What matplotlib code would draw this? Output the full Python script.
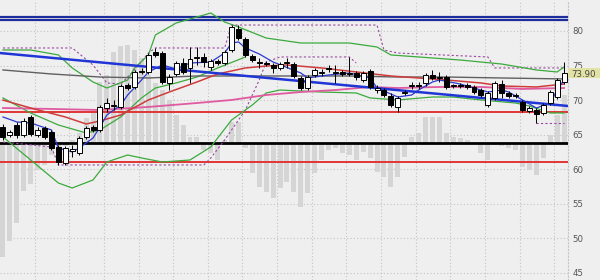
import matplotlib
matplotlib.use('Agg')
import matplotlib.pyplot as plt
from matplotlib.patches import Rectangle
import numpy as np

# ---------------- data ----------------
opens = [66.11, 64.96, 66.40, 64.96, 67.56, 64.96, 65.97, 65.39, 63.22, 60.91,
         62.64, 62.35, 64.67, 66.11, 65.68, 68.86, 69.15, 69.01, 72.19, 71.90,
         74.07, 74.07, 76.96, 76.81, 72.48, 73.78, 75.37, 74.65, 76.09, 76.24,
         74.79, 75.66, 75.37, 77.25, 80.29, 78.84, 76.38, 75.51, 75.37, 75.08,
         74.65, 75.37, 75.22, 73.20, 71.75, 73.63, 73.92, 74.50, 73.92, 74.07,
         73.78, 73.92, 72.91, 74.21, 71.46, 71.46, 70.60, 69.01, 71.03, 72.04,
         72.19, 72.48, 73.63, 73.20, 73.34, 72.04, 72.19, 72.19, 71.90, 71.46,
         69.30, 70.31, 72.33, 71.03, 70.60, 69.73, 68.43, 68.57, 68.14, 69.58,
         70.45, 72.62]
highs = [66.55, 65.68, 66.84, 67.41, 67.85, 66.11, 66.26, 65.68, 63.51, 63.36,
         63.51, 64.81, 66.26, 66.40, 69.30, 70.31, 70.02, 72.33, 72.48, 74.36,
         74.65, 76.81, 77.54, 77.10, 73.78, 75.66, 76.09, 77.68, 77.68, 76.81,
         75.95, 75.95, 77.25, 80.86, 80.86, 79.13, 76.67, 76.09, 75.66, 75.37,
         75.51, 76.09, 75.51, 73.49, 73.63, 74.65, 74.50, 75.08, 75.08, 74.36,
         76.24, 74.21, 74.21, 74.50, 72.19, 71.75, 71.03, 70.60, 71.46, 72.62,
         72.62, 73.92, 74.36, 74.07, 73.63, 72.33, 72.48, 72.48, 72.19, 71.75,
         71.32, 72.77, 72.91, 71.32, 71.03, 70.02, 69.15, 68.86, 69.58, 71.46,
         73.20, 75.51]
lows = [64.23, 64.67, 64.52, 64.67, 64.81, 64.67, 64.38, 62.78, 60.62, 60.62,
        61.77, 62.06, 64.38, 65.39, 65.39, 68.28, 68.57, 68.72, 71.46, 71.61,
        73.78, 73.78, 76.24, 72.33, 71.46, 73.49, 73.78, 72.48, 75.08, 74.79,
        74.36, 75.08, 75.08, 76.96, 78.70, 76.24, 75.51, 74.65, 74.93, 73.92,
        74.36, 74.65, 73.20, 71.46, 71.46, 73.34, 73.49, 74.07, 72.48, 73.49,
        73.49, 72.91, 72.62, 71.61, 71.03, 70.45, 69.01, 68.28, 70.74, 71.61,
        71.61, 72.04, 72.91, 72.62, 71.61, 71.75, 71.75, 71.61, 70.89, 70.45,
        69.01, 70.02, 70.31, 70.31, 70.31, 68.28, 68.14, 66.69, 67.85, 69.30,
        70.16, 72.33]
closes = [64.67, 65.39, 64.96, 66.98, 65.10, 65.68, 64.67, 63.07, 61.05, 63.07,
          62.93, 64.52, 65.97, 65.68, 69.01, 69.58, 69.30, 72.04, 71.75, 74.07,
          74.21, 76.53, 76.53, 72.62, 73.34, 75.37, 74.07, 75.95, 76.24, 75.51,
          75.66, 75.37, 76.96, 80.58, 78.98, 76.53, 75.80, 75.37, 75.22, 74.65,
          75.22, 75.51, 73.49, 71.75, 73.34, 74.36, 74.07, 74.65, 74.07, 73.78,
          73.92, 73.34, 73.92, 71.90, 71.75, 70.74, 69.30, 70.31, 71.17, 72.19,
          72.04, 73.63, 73.20, 73.34, 71.90, 72.19, 72.04, 71.90, 71.17, 70.74,
          71.03, 72.48, 71.03, 70.60, 70.74, 68.57, 68.86, 67.99, 69.30, 71.17,
          72.91, 73.90]

# histogram (drawn around the zero line)
hist_zero = 63.80
hist_vals = [47.31, 49.63, 52.23, 56.86, 57.87, 59.89, 60.62, 62.06, 62.78, 63.36,
             64.23, 65.25, 67.41, 68.28, 72.62, 73.63, 76.96, 77.83, 77.97, 77.25,
             76.09, 73.63, 72.48, 71.46, 70.02, 67.85, 66.40, 64.67, 64.67, 62.78,
             62.35, 61.34, 64.23, 66.84, 66.84, 63.07, 59.46, 57.43, 56.71, 55.84,
             57.29, 58.16, 56.71, 54.54, 56.57, 59.46, 61.34, 62.78, 63.07, 62.35,
             62.06, 61.34, 62.50, 61.63, 59.60, 58.88, 57.43, 58.88, 61.77, 64.67,
             65.25, 67.56, 67.56, 67.56, 65.25, 64.67, 64.52, 64.23, 63.80, 62.35,
             61.34, 63.51, 63.36, 63.07, 62.78, 60.33, 59.89, 59.17, 61.63, 64.96,
             67.85, 70.74]

# indicator lines: (bar index, value)
red_ma_idx = [0, 4, 9, 12, 14, 17, 21, 24, 28, 31, 35, 38, 41, 46, 51, 56, 60, 64, 69, 72, 77, 81]
red_ma_val = [70.0, 68.86, 67.56, 66.55, 66.98, 67.85, 70.02, 71.17, 72.62, 73.78, 74.65, 74.93,
              75.08, 74.65, 74.07, 73.49, 73.20, 72.91, 72.48, 72.04, 71.90, 72.33]

pink_ma_idx = [0, 7, 14, 21, 28, 33, 38, 43, 48, 53, 57, 63, 69, 75, 81]
pink_ma_val = [68.86, 68.72, 68.57, 69.01, 69.58, 70.02, 70.74, 71.17, 71.46, 71.90, 71.75,
               71.90, 71.90, 71.61, 71.75]

gray_ma_idx = [0, 7, 14, 21, 28, 36, 43, 50, 57, 64, 72, 81]
gray_ma_val = [74.36, 73.78, 73.34, 73.20, 73.49, 73.49, 73.49, 73.49, 73.34, 73.34, 73.20, 73.06]

blue_ma_idx = [0, 2, 4, 7, 8, 10, 11, 13, 14, 15, 17, 18, 20, 21, 23, 25, 27, 30, 32, 33, 34,
               35, 37, 39, 43, 44, 47, 50, 53, 54, 57, 59, 60, 62, 63, 66, 68, 70, 72, 73, 75,
               77, 79, 80, 81]
blue_ma_val = [67.56, 66.84, 66.69, 65.68, 63.07, 62.50, 63.07, 64.52, 66.11, 67.85, 69.30,
               70.74, 72.91, 74.07, 75.08, 74.50, 75.37, 75.51, 76.81, 78.26, 78.41, 77.54,
               76.67, 75.51, 73.92, 73.20, 73.63, 73.92, 73.20, 71.75, 70.45, 70.74, 71.46,
               72.62, 72.91, 72.33, 71.75, 71.17, 71.46, 71.17, 70.02, 68.86, 69.58, 71.46,
               72.91]

bb_up_idx = [0, 4, 8, 10, 13, 15, 18, 19, 21, 22, 25, 28, 30, 32, 34, 38, 43, 50, 54, 56, 60,
             66, 72, 77, 80, 81]
bb_up_val = [77.25, 77.25, 76.53, 74.65, 72.62, 71.75, 72.91, 74.65, 76.53, 79.42, 81.15,
             82.02, 82.60, 81.30, 80.58, 78.98, 78.26, 78.26, 77.68, 76.53, 76.24, 75.80,
             75.22, 74.36, 74.07, 74.79]

bb_lo_idx = [0, 4, 8, 10, 13, 15, 18, 20, 23, 27, 30, 33, 36, 38, 40, 46, 51, 53, 57, 62, 65,
             69, 74, 76, 79, 81]
bb_lo_val = [64.67, 61.34, 58.01, 57.29, 58.45, 61.05, 62.06, 61.63, 61.05, 61.34, 63.22,
             67.12, 69.30, 71.03, 71.46, 71.17, 71.03, 70.31, 70.02, 70.45, 70.45, 70.02,
             69.58, 69.15, 68.14, 68.14]

inner_green_idx = [0, 4, 8, 12, 14, 17, 20, 22, 25, 28, 31, 35]
inner_green_val = [70.31, 68.14, 66.40, 65.25, 65.68, 67.56, 70.31, 71.75, 72.48, 73.34,
                   74.65, 76.24]

ch_up_idx = [0, 10, 13, 15, 17, 19, 21, 22, 32, 33, 54, 55, 57, 70, 71, 81]
ch_up_val = [77.54, 77.54, 75.08, 72.48, 72.33, 74.36, 76.81, 77.54, 77.54, 80.86, 80.86,
             77.25, 76.81, 76.24, 74.65, 74.65]

ch_lo_idx = [0, 7, 8, 29, 30, 32, 35, 37, 38, 40, 50, 51]
ch_lo_val = [63.94, 63.22, 60.62, 60.62, 61.63, 64.23, 68.57, 72.91, 75.51, 76.24, 76.24, 75.37]

ch_lo2_idx = [77, 81]
ch_lo2_val = [66.69, 66.69]

trend_idx = [0, 82]
trend_val = [76.81, 69.15]

blue_levels = [82.07, 81.59]
red_levels = [68.28, 61.05]
black_level = 63.80
last_price = 73.90
y_ticks = [45, 50, 55, 60, 65, 70, 75, 80]

# ---------------- drawing ----------------
BG = '#efefef'
fig = plt.figure(figsize=(6, 2.8), dpi=100)
fig.patch.set_facecolor(BG)
ax = fig.add_axes([0, 0, 568 / 600, 1])
ax.set_facecolor(BG)
ax.set_xlim(0, 82)
ax.set_ylim(43.98, 84.48)

n = len(opens)
off = 0.43
x = np.arange(n) + off

ax.set_yticks(y_ticks)
ax.set_xticks(np.arange(5, 82, 5))
ax.grid(True, color='#c4c4c4', linestyle=(0, (1, 2)), linewidth=0.8)
ax.set_axisbelow(True)
ax.yaxis.tick_right()
ax.tick_params(axis='y', length=0, labelsize=6.2, labelcolor='#555555', pad=3)
ax.tick_params(axis='x', length=0, labelbottom=False)
for s in ['top', 'bottom', 'left']:
    ax.spines[s].set_visible(False)
ax.spines['right'].set_color('#c4c4c4')
ax.spines['right'].set_linestyle((0, (1, 2)))

# histogram
hv = np.array(hist_vals)
ax.bar(x, hv - hist_zero, bottom=hist_zero, width=0.72, color='#d5d5d5', zorder=1)

# horizontal levels
for lv in blue_levels:
    ax.axhline(lv, color='#1c2c9c', lw=1.6, zorder=3)
for lv in red_levels:
    ax.axhline(lv, color='#e03535', lw=1.4, zorder=3)
ax.axhline(black_level, color='black', lw=2.0, zorder=3)

def ln(idx, val, **kw):
    ax.plot(np.array(idx) + off, val, **kw)

ln(ch_up_idx, ch_up_val, color='#9a4aa0', lw=0.8, ls=(0, (2, 2)), zorder=3)
ln(ch_lo_idx, ch_lo_val, color='#9a4aa0', lw=0.8, ls=(0, (2, 2)), zorder=3)
ln(ch_lo2_idx, ch_lo2_val, color='#9a4aa0', lw=0.8, ls=(0, (2, 2)), zorder=3)
ln(bb_up_idx, bb_up_val, color='#3caa3c', lw=0.9, zorder=3)
ln(bb_lo_idx, bb_lo_val, color='#3caa3c', lw=0.9, zorder=3)
ln(inner_green_idx, inner_green_val, color='#3caa3c', lw=0.9, zorder=3)
ln(gray_ma_idx, gray_ma_val, color='#606060', lw=1.0, zorder=3)
ln(pink_ma_idx, pink_ma_val, color='#e05aa0', lw=1.3, zorder=3)
ln(red_ma_idx, red_ma_val, color='#d03c3c', lw=1.1, zorder=3)
ln(blue_ma_idx, blue_ma_val, color='#2a3ad0', lw=0.9, zorder=4)
ax.plot(trend_idx, trend_val, color='#1f35d6', lw=1.8, zorder=4)

# candles
o = np.array(opens); c = np.array(closes)
h = np.array(highs); l = np.array(lows)
ax.vlines(x, l, h, color='black', lw=0.7, zorder=5)
body_lo = np.minimum(o, c)
body_h = np.maximum(np.abs(c - o), 0.1)
cols = ['black' if cc < oo else 'white' for oo, cc in zip(o, c)]
ax.bar(x, body_h, bottom=body_lo, width=0.72, color=cols, edgecolor='black',
       linewidth=0.7, zorder=6)

# last price label
tr = ax.get_yaxis_transform()
ax.add_patch(Rectangle((1.0, last_price - 0.75), 0.06, 1.5, transform=tr,
                       facecolor='#e2e2a4', edgecolor='none', clip_on=False, zorder=7))
ax.text(1.006, last_price - 0.15, f'{last_price:.2f}', transform=tr, fontsize=6.2,
        color='#444444', va='center', ha='left', zorder=8, clip_on=False)

fig.savefig('out.png', dpi=100, facecolor=BG)
